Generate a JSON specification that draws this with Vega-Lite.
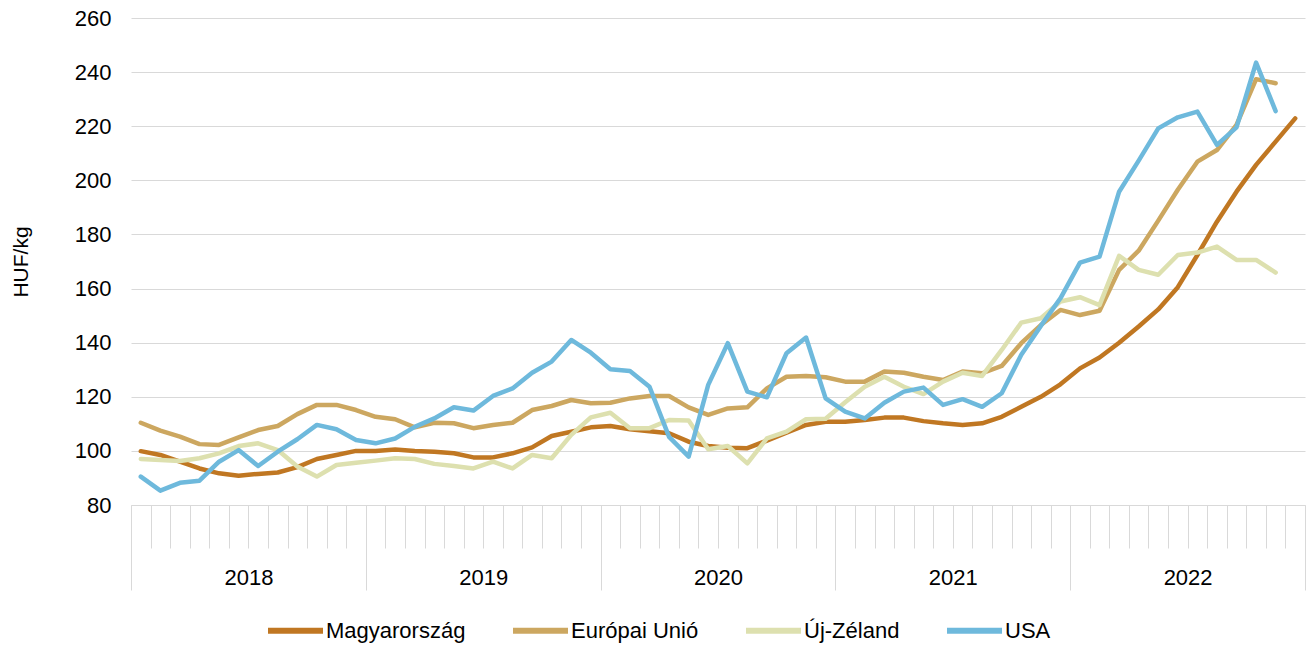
{
  "$schema": "https://vega.github.io/schema/vega-lite/v6.json",
  "autosize": {"type": "none"},
  "padding": {"left": 131, "top": 18, "right": 4, "bottom": 140},
  "width": 1174,
  "height": 487,
  "background": "white",
  "config": {"view": {"stroke": null}, "font": "Liberation Sans"},
  "data": {"values": [
    {"i": 1, "Magyarország": 99.9, "Európai Unió": 110.4, "Új-Zéland": 97, "USA": 90.5},
    {"i": 2, "Magyarország": 98.5, "Európai Unió": 107.5, "Új-Zéland": 96.6, "USA": 85.3},
    {"i": 3, "Magyarország": 96, "Európai Unió": 105.3, "Új-Zéland": 96.3, "USA": 88.2},
    {"i": 4, "Magyarország": 93.5, "Európai Unió": 102.5, "Új-Zéland": 97.3, "USA": 89},
    {"i": 5, "Magyarország": 91.7, "Európai Unió": 102.2, "Új-Zéland": 99.1, "USA": 96},
    {"i": 6, "Magyarország": 90.8, "Európai Unió": 105, "Új-Zéland": 101.8, "USA": 100.3},
    {"i": 7, "Magyarország": 91.5, "Európai Unió": 107.7, "Új-Zéland": 102.8, "USA": 94.4},
    {"i": 8, "Magyarország": 92, "Európai Unió": 109.2, "Új-Zéland": 100.3, "USA": 99.7},
    {"i": 9, "Magyarország": 94, "Európai Unió": 113.6, "Új-Zéland": 94.2, "USA": 104.3},
    {"i": 10, "Magyarország": 97, "Európai Unió": 117, "Új-Zéland": 90.5, "USA": 109.6},
    {"i": 11, "Magyarország": 98.5, "Európai Unió": 117, "Új-Zéland": 94.8, "USA": 108},
    {"i": 12, "Magyarország": 100, "Európai Unió": 115.1, "Új-Zéland": 95.6, "USA": 104},
    {"i": 13, "Magyarország": 100, "Európai Unió": 112.6, "Új-Zéland": 96.4, "USA": 102.8},
    {"i": 14, "Magyarország": 100.5, "Európai Unió": 111.7, "Új-Zéland": 97.3, "USA": 104.6},
    {"i": 15, "Magyarország": 100, "Európai Unió": 108.7, "Új-Zéland": 97, "USA": 108.9},
    {"i": 16, "Magyarország": 99.7, "Európai Unió": 110.4, "Új-Zéland": 95.2, "USA": 112},
    {"i": 17, "Magyarország": 99.1, "Európai Unió": 110.2, "Új-Zéland": 94.4, "USA": 116.1},
    {"i": 18, "Magyarország": 97.6, "Európai Unió": 108.4, "Új-Zéland": 93.5, "USA": 114.9},
    {"i": 19, "Magyarország": 97.6, "Európai Unió": 109.6, "Új-Zéland": 96, "USA": 120.3},
    {"i": 20, "Magyarország": 99.1, "Európai Unió": 110.4, "Új-Zéland": 93.5, "USA": 123.1},
    {"i": 21, "Magyarország": 101.3, "Európai Unió": 115.1, "Új-Zéland": 98.5, "USA": 128.9},
    {"i": 22, "Magyarország": 105.5, "Európai Unió": 116.6, "Új-Zéland": 97.3, "USA": 133},
    {"i": 23, "Magyarország": 107.1, "Európai Unió": 118.8, "Új-Zéland": 105.9, "USA": 141},
    {"i": 24, "Magyarország": 108.7, "Európai Unió": 117.6, "Új-Zéland": 112.4, "USA": 136.3},
    {"i": 25, "Magyarország": 109.2, "Európai Unió": 117.8, "Új-Zéland": 114.1, "USA": 130.2},
    {"i": 26, "Magyarország": 108, "Európai Unió": 119.4, "Új-Zéland": 108.4, "USA": 129.5},
    {"i": 27, "Magyarország": 107.3, "Európai Unió": 120.3, "Új-Zéland": 108.4, "USA": 123.7},
    {"i": 28, "Magyarország": 106.5, "Európai Unió": 120.3, "Új-Zéland": 111.4, "USA": 105.2},
    {"i": 29, "Magyarország": 103.4, "Európai Unió": 116.1, "Új-Zéland": 111.2, "USA": 97.9},
    {"i": 30, "Magyarország": 101.8, "Európai Unió": 113.3, "Új-Zéland": 100.6, "USA": 124.4},
    {"i": 31, "Magyarország": 101.2, "Európai Unió": 115.7, "Új-Zéland": 101.8, "USA": 139.8},
    {"i": 32, "Magyarország": 101, "Európai Unió": 116.1, "Új-Zéland": 95.4, "USA": 121.9},
    {"i": 33, "Magyarország": 103.8, "Európai Unió": 123.1, "Új-Zéland": 104.6, "USA": 119.8},
    {"i": 34, "Magyarország": 106.7, "Európai Unió": 127.4, "Új-Zéland": 107.1, "USA": 136.1},
    {"i": 35, "Magyarország": 109.6, "Európai Unió": 127.7, "Új-Zéland": 111.7, "USA": 141.9},
    {"i": 36, "Magyarország": 110.8, "Európai Unió": 127.2, "Új-Zéland": 111.9, "USA": 119.4},
    {"i": 37, "Magyarország": 110.8, "Európai Unió": 125.6, "Új-Zéland": 118, "USA": 114.5},
    {"i": 38, "Magyarország": 111.4, "Európai Unió": 125.6, "Új-Zéland": 123.7, "USA": 112},
    {"i": 39, "Magyarország": 112.3, "Európai Unió": 129.3, "Új-Zéland": 127.4, "USA": 117.8},
    {"i": 40, "Magyarország": 112.3, "Európai Unió": 128.9, "Új-Zéland": 123.7, "USA": 121.9},
    {"i": 41, "Magyarország": 111, "Európai Unió": 127.4, "Új-Zéland": 121, "USA": 123.4},
    {"i": 42, "Magyarország": 110.2, "Európai Unió": 126.2, "Új-Zéland": 125.6, "USA": 117},
    {"i": 43, "Magyarország": 109.6, "Európai Unió": 129.3, "Új-Zéland": 128.9, "USA": 119.1},
    {"i": 44, "Magyarország": 110.2, "Európai Unió": 128.7, "Új-Zéland": 127.7, "USA": 116.3},
    {"i": 45, "Magyarország": 112.6, "Európai Unió": 131.4, "Új-Zéland": 137.3, "USA": 121.3},
    {"i": 46, "Magyarország": 116.3, "Európai Unió": 139.8, "Új-Zéland": 147.4, "USA": 135.5},
    {"i": 47, "Magyarország": 120, "Európai Unió": 146.5, "Új-Zéland": 149, "USA": 146.2},
    {"i": 48, "Magyarország": 124.6, "Európai Unió": 152.1, "Új-Zéland": 155.2, "USA": 156.4},
    {"i": 49, "Magyarország": 130.5, "Európai Unió": 150.2, "Új-Zéland": 156.8, "USA": 169.6},
    {"i": 50, "Magyarország": 134.5, "Európai Unió": 151.8, "Új-Zéland": 153.9, "USA": 171.8},
    {"i": 51, "Magyarország": 140, "Európai Unió": 166.9, "Új-Zéland": 172.1, "USA": 195.8},
    {"i": 52, "Magyarország": 146, "Európai Unió": 174, "Új-Zéland": 166.9, "USA": 207.3},
    {"i": 53, "Magyarország": 152.3, "Európai Unió": 185.1, "Új-Zéland": 165.1, "USA": 219.2},
    {"i": 54, "Magyarország": 160.5, "Európai Unió": 196.5, "Új-Zéland": 172.4, "USA": 223.3},
    {"i": 55, "Magyarország": 172.4, "Európai Unió": 206.9, "Új-Zéland": 173.3, "USA": 225.4},
    {"i": 56, "Magyarország": 184.7, "Európai Unió": 211.2, "Új-Zéland": 175.5, "USA": 213.1},
    {"i": 57, "Magyarország": 195.8, "Európai Unió": 220.5, "Új-Zéland": 170.6, "USA": 219.6},
    {"i": 58, "Magyarország": 205.7, "Európai Unió": 237.4, "Új-Zéland": 170.6, "USA": 243.5},
    {"i": 59, "Magyarország": 214.3, "Európai Unió": 235.9, "Új-Zéland": 165.9, "USA": 225.6},
    {"i": 60, "Magyarország": 222.9, "Európai Unió": null, "Új-Zéland": null, "USA": null}
  ]},
  "transform": [
    {"fold": ["Magyarország", "Európai Unió", "Új-Zéland", "USA"], "as": ["sorozat", "ertek"]}
  ],
  "mark": {"type": "line", "strokeWidth": 4.5, "strokeCap": "round", "strokeJoin": "round"},
  "encoding": {
    "x": {
      "field": "i",
      "type": "quantitative",
      "scale": {"domain": [0.5, 60.5], "nice": false, "zero": false},
      "axis": {
        "title": null,
        "values": [0.5, 1.5, 2.5, 3.5, 4.5, 5.5, 6.5, 7.5, 8.5, 9.5, 10.5, 11.5, 12.5, 13.5, 14.5, 15.5, 16.5, 17.5, 18.5, 19.5, 20.5, 21.5, 22.5, 23.5, 24.5, 25.5, 26.5, 27.5, 28.5, 29.5, 30.5, 31.5, 32.5, 33.5, 34.5, 35.5, 36.5, 37.5, 38.5, 39.5, 40.5, 41.5, 42.5, 43.5, 44.5, 45.5, 46.5, 47.5, 48.5, 49.5, 50.5, 51.5, 52.5, 53.5, 54.5, 55.5, 56.5, 57.5, 58.5, 59.5, 60.5],
        "grid": false,
        "domainColor": "#d9d9d9",
        "domainWidth": 1,
        "tickColor": "#d9d9d9",
        "tickWidth": 1,
        "tickSize": {"condition": {"test": "(datum.value - 0.5) % 12 == 0", "value": 85}, "value": 43},
        "labelExpr": "(datum.value - 6.5) % 12 == 0 ? '' + (2018 + (datum.value - 6.5) / 12) : ''",
        "labelFontSize": 22,
        "labelColor": "#000000",
        "labelPadding": 19,
        "labelOverlap": false,
        "labelFlush": false,
        "labelBound": false
      }
    },
    "y": {
      "field": "ertek",
      "type": "quantitative",
      "scale": {"domain": [80, 260], "nice": false, "zero": false},
      "axis": {
        "title": "HUF/kg",
        "values": [80, 100, 120, 140, 160, 180, 200, 220, 240, 260],
        "domain": false,
        "ticks": false,
        "grid": true,
        "gridColor": "#d9d9d9",
        "gridWidth": 1,
        "labelFontSize": 22,
        "labelColor": "#000000",
        "labelPadding": 20,
        "titleFontSize": 21,
        "titleFontWeight": "normal",
        "titleColor": "#000000",
        "titleAngle": 270,
        "titleX": -104,
        "titleY": 243.5,
        "titleAlign": "center",
        "titleBaseline": "alphabetic"
      }
    },
    "color": {
      "field": "sorozat",
      "type": "nominal",
      "scale": {
        "domain": ["Magyarország", "Európai Unió", "Új-Zéland", "USA"],
        "range": ["#C07722", "#CCA760", "#DDE0AF", "#6EB9DC"]
      },
      "legend": {
        "orient": "none",
        "legendX": 134,
        "legendY": 582,
        "direction": "horizontal",
        "title": null,
        "symbolType": "stroke",
        "symbolSize": 3025,
        "symbolStrokeWidth": 6,
        "labelFontSize": 22,
        "labelColor": "#000000",
        "labelOffset": 0,
        "columnPadding": 35,
        "labelLimit": 300
      }
    }
  }
}
